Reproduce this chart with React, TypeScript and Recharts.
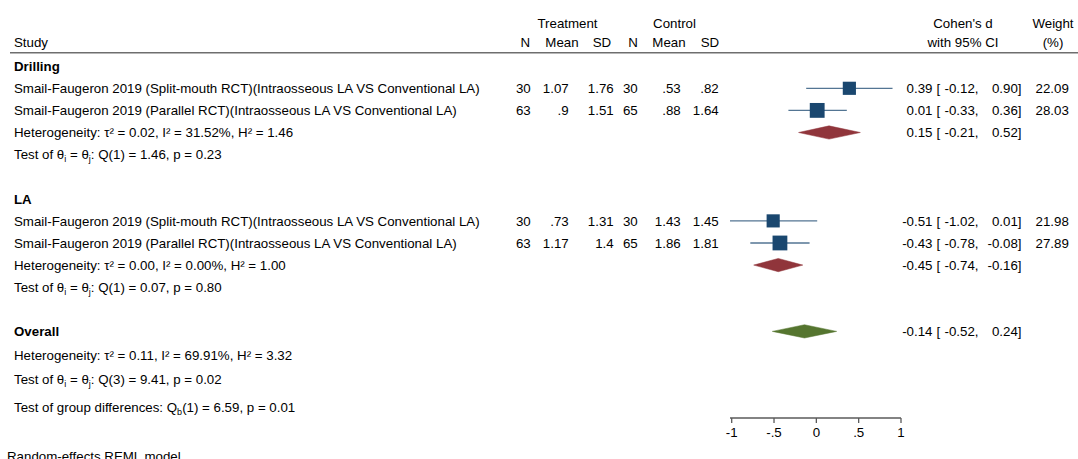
import React from "react";
import { ComposedChart, XAxis, YAxis, Scatter, Area, ErrorBar } from "recharts";

const FONT = "'Liberation Sans', Arial, Helvetica, sans-serif";
const FS = 13.3;
const NAVY = "#1a476f";
const MAROON = "#90353b";
const GREEN = "#55752f";
const AXIS = "#5a5a5a";

// ---------- data ----------
const groupNames = ["Drilling", "LA"];
const studyNames = [
  "Smail-Faugeron 2019 (Split-mouth RCT)(Intraosseous LA VS Conventional LA)",
  "Smail-Faugeron 2019 (Parallel RCT)(Intraosseous LA VS Conventional LA)",
  "Smail-Faugeron 2019 (Split-mouth RCT)(Intraosseous LA VS Conventional LA)",
  "Smail-Faugeron 2019 (Parallel RCT)(Intraosseous LA VS Conventional LA)",
];
const studyGroup = [0, 0, 1, 1];
const treatN = [30, 63, 30, 63];
const treatMean = [1.07, 0.9, 0.73, 1.17];
const treatSD = [1.76, 1.51, 1.31, 1.4];
const ctrlN = [30, 65, 30, 65];
const ctrlMean = [0.53, 0.88, 1.43, 1.86];
const ctrlSD = [0.82, 1.64, 1.45, 1.81];
const effect = [0.39, 0.01, -0.51, -0.43];
const ciLow = [-0.12, -0.33, -1.02, -0.78];
const ciHigh = [0.9, 0.36, 0.01, -0.08];
const weight = [22.09, 28.03, 21.98, 27.89];

const subEffect = [0.15, -0.45];
const subLow = [-0.21, -0.74];
const subHigh = [0.52, -0.16];
const subTau2 = [0.02, 0.0];
const subI2 = [31.52, 0.0];
const subH2 = [1.46, 1.0];
const subQ = [1.46, 0.07];
const subDf = [1, 1];
const subP = [0.23, 0.8];

const overallEffect = -0.14;
const overallLow = -0.52;
const overallHigh = 0.24;
const overallTau2 = 0.11;
const overallI2 = 69.91;
const overallH2 = 3.32;
const overallQ = 9.41;
const overallDf = 3;
const overallP = 0.02;
const groupDiffQ = 6.59;
const groupDiffDf = 1;
const groupDiffP = 0.01;

const xTicks = [-1, -0.5, 0, 0.5, 1];

// ---------- layout helpers ----------
const f2 = (v: number) => v.toFixed(2);
const fg = (v: number) => String(v).replace(/^(-?)0\./, "$1.");
const fmtTick = (v: number) => (v === 0 ? "0" : String(v).replace("0.", "."));

type TextRow = { x: number; r: number; kind: string; idx: number };
const textRows: TextRow[] = [];
const studyPts: any[] = [];
const diamondData: any[] = [];
const diamondColors: string[] = [];

const addDiamond = (rr: number, lo: number, est: number, hi: number, color: string) => {
  const k = "d" + diamondColors.length;
  diamondColors.push(color);
  diamondData.push({ x: lo, [k]: [rr, rr] });
  diamondData.push({ x: est, [k]: [rr - 0.3, rr + 0.3] });
  diamondData.push({ x: hi, [k]: [rr, rr] });
};

let row = 0;
groupNames.forEach((g, gi) => {
  textRows.push({ x: 0, r: row, kind: "group", idx: gi });
  row++;
  studyNames.forEach((s, si) => {
    if (studyGroup[si] !== gi) return;
    textRows.push({ x: 0, r: row, kind: "study", idx: si });
    studyPts.push({
      x: effect[si],
      r: row,
      err: [effect[si] - ciLow[si], ciHigh[si] - effect[si]],
      w: weight[si],
    });
    row++;
  });
  textRows.push({ x: 0, r: row, kind: "het", idx: gi });
  addDiamond(row, subLow[gi], subEffect[gi], subHigh[gi], MAROON);
  row++;
  textRows.push({ x: 0, r: row, kind: "test", idx: gi });
  row += 2;
});
textRows.push({ x: 0, r: row, kind: "overall", idx: 0 });
addDiamond(row, overallLow, overallEffect, overallHigh, GREEN);
textRows.push({ x: 0, r: row + 1.08, kind: "ohet", idx: 0 });
textRows.push({ x: 0, r: row + 2.16, kind: "otest", idx: 0 });
textRows.push({ x: 0, r: row + 3.45, kind: "gdiff", idx: 0 });

// ---------- shapes ----------
const T = (p: { x: number; y: number; a?: string; b?: boolean; children: any }) => (
  <text
    x={p.x}
    y={p.y}
    textAnchor={p.a || "start"}
    fontFamily={FONT}
    fontSize={FS}
    fontWeight={p.b ? "bold" : "normal"}
    fill="#000"
  >
    {p.children}
  </text>
);

const ciCells = (y: number, est: number, lo: number, hi: number) => (
  <g>
    <T x={932.5} y={y} a="end">{f2(est)}</T>
    <T x={936.5} y={y}>[</T>
    <T x={978.5} y={y} a="end">{f2(lo) + ","}</T>
    <T x={1021.5} y={y} a="end">{f2(hi) + "]"}</T>
  </g>
);

const hetText = (tau2: number, i2: number, h2: number) =>
  `Heterogeneity: \u03c4\u00b2 = ${f2(tau2)}, I\u00b2 = ${f2(i2)}%, H\u00b2 = ${f2(h2)}`;

const testText = (y: number, df: number, q: number, p: number) => (
  <text x={14} y={y} fontFamily={FONT} fontSize={FS} fill="#000">
    {"Test of \u03b8"}
    <tspan fontSize={9} dy={3}>i</tspan>
    <tspan dy={-3}>{" = \u03b8"}</tspan>
    <tspan fontSize={9} dy={3}>j</tspan>
    <tspan dy={-3}>{`: Q(${df}) = ${f2(q)}, p = ${f2(p)}`}</tspan>
  </text>
);

const TextShape = (props: any) => {
  const { cy, payload } = props;
  const y = cy + 4.8;
  const i = payload.idx;
  switch (payload.kind) {
    case "group":
      return <T x={14} y={y} b>{groupNames[i]}</T>;
    case "study":
      return (
        <g>
          <T x={14} y={y}>{studyNames[i]}</T>
          <T x={530.7} y={y} a="end">{String(treatN[i])}</T>
          <T x={568.7} y={y} a="end">{fg(treatMean[i])}</T>
          <T x={613.7} y={y} a="end">{fg(treatSD[i])}</T>
          <T x={637.7} y={y} a="end">{String(ctrlN[i])}</T>
          <T x={680.7} y={y} a="end">{fg(ctrlMean[i])}</T>
          <T x={718.7} y={y} a="end">{fg(ctrlSD[i])}</T>
          {ciCells(y, effect[i], ciLow[i], ciHigh[i])}
          <T x={1068.8} y={y} a="end">{f2(weight[i])}</T>
        </g>
      );
    case "het":
      return (
        <g>
          <T x={14} y={y}>{hetText(subTau2[i], subI2[i], subH2[i])}</T>
          {ciCells(y, subEffect[i], subLow[i], subHigh[i])}
        </g>
      );
    case "test":
      return testText(y, subDf[i], subQ[i], subP[i]);
    case "overall":
      return (
        <g>
          <T x={14} y={y} b>Overall</T>
          {ciCells(y, overallEffect, overallLow, overallHigh)}
        </g>
      );
    case "ohet":
      return <T x={14} y={y}>{hetText(overallTau2, overallI2, overallH2)}</T>;
    case "otest":
      return testText(y, overallDf, overallQ, overallP);
    case "gdiff":
      return (
        <text x={14} y={y} fontFamily={FONT} fontSize={FS} fill="#000">
          {"Test of group differences: Q"}
          <tspan fontSize={9} dy={3}>b</tspan>
          <tspan dy={-3}>{`(${groupDiffDf}) = ${f2(groupDiffQ)}, p = ${f2(groupDiffP)}`}</tspan>
        </text>
      );
    default:
      return <g />;
  }
};

const SquareShape = (props: any) => {
  const { cx, cy, payload } = props;
  const s = 2.8 * Math.sqrt(payload.w);
  return <rect x={cx - s / 2} y={cy - s / 2} width={s} height={s} fill={NAVY} />;
};

// ---------- header labels ----------
const headTop = [
  { t: "Treatment", x: 567.5, a: "middle" },
  { t: "Control", x: 674.5, a: "middle" },
  { t: "Cohen's d", x: 963, a: "middle" },
  { t: "Weight", x: 1053, a: "middle" },
];
const headBottom = [
  { t: "Study", x: 14, a: "start" },
  { t: "N", x: 530, a: "end" },
  { t: "Mean", x: 562, a: "middle" },
  { t: "SD", x: 602, a: "middle" },
  { t: "N", x: 633, a: "middle" },
  { t: "Mean", x: 669, a: "middle" },
  { t: "SD", x: 710, a: "middle" },
  { t: "with 95% CI", x: 963, a: "middle" },
  { t: "(%)", x: 1053, a: "middle" },
];
const footerText = "Random-effects REML model";

export default function App() {
  return (
    <div style={{ position: "absolute", left: 0, top: 0, width: 1078, height: 459, background: "#fff" }}>
      <ComposedChart
        width={1078}
        height={459}
        data={diamondData}
        margin={{ top: 22, right: 177, bottom: 11, left: 730 }}
      >
        <XAxis
          type="number"
          dataKey="x"
          domain={[-1, 1]}
          ticks={xTicks}
          interval={0}
          tickFormatter={fmtTick}
          height={30}
          tickSize={5}
          tickMargin={5}
          axisLine={{ stroke: AXIS, strokeWidth: 1.3 }}
          tickLine={{ stroke: AXIS, strokeWidth: 1.3 }}
          tick={{ fill: "#000", fontSize: FS, fontFamily: FONT }}
        />
        <YAxis type="number" dataKey="r" domain={[-2, 15.92]} reversed hide />
        {diamondColors.map((c, k) => (
          <Area
            key={"d" + k}
            dataKey={"d" + k}
            type="linear"
            stroke={c}
            strokeWidth={0.5}
            fill={c}
            fillOpacity={1}
            isAnimationActive={false}
            dot={false}
            activeDot={false}
          />
        ))}
        <Scatter data={studyPts} dataKey="r" shape={SquareShape} isAnimationActive={false}>
          <ErrorBar
            dataKey="err"
            direction="x"
            width={0}
            stroke={NAVY}
            strokeOpacity={0.75}
            strokeWidth={1.3}
            isAnimationActive={false}
          />
        </Scatter>
        <Scatter data={textRows} dataKey="r" shape={TextShape} isAnimationActive={false} />
      </ComposedChart>
      <svg
        width={1078}
        height={459}
        style={{ position: "absolute", left: 0, top: 0, pointerEvents: "none" }}
      >
        <line x1={10} x2={1078} y1={52.7} y2={52.7} stroke="#6e6e6e" strokeWidth={1.5} />
        {headTop.map((h, i) => (
          <text key={"ht" + i} x={h.x} y={28} textAnchor={h.a as any} fontFamily={FONT} fontSize={FS} fill="#000">
            {h.t}
          </text>
        ))}
        {headBottom.map((h, i) => (
          <text key={"hb" + i} x={h.x} y={47} textAnchor={h.a as any} fontFamily={FONT} fontSize={FS} fill="#000">
            {h.t}
          </text>
        ))}
        <text x={7} y={460.5} fontFamily={FONT} fontSize={FS} fill="#000">
          {footerText}
        </text>
      </svg>
    </div>
  );
}
